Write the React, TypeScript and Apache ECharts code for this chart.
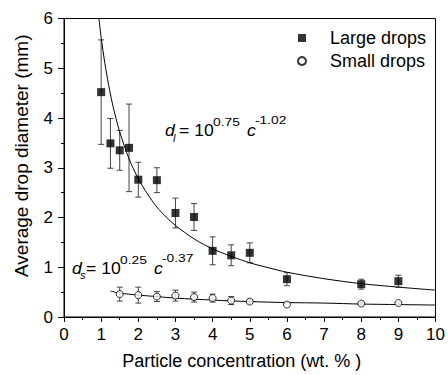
import React, { useEffect, useRef } from "react";
import * as echarts from "echarts";

const concLarge = [1, 1.25, 1.5, 1.75, 2, 2.5, 3, 3.5, 4, 4.5, 5, 6, 8, 9];
const diamLarge = [4.52, 3.49, 3.35, 3.4, 2.76, 2.75, 2.09, 2.01, 1.33, 1.24, 1.29, 0.76, 0.66, 0.72];
const errLarge = [1.05, 0.5, 0.4, 0.88, 0.35, 0.25, 0.3, 0.27, 0.28, 0.21, 0.2, 0.13, 0.1, 0.12];

const concSmall = [1.5, 2, 2.5, 3, 3.5, 4, 4.5, 5, 6, 8, 9];
const diamSmall = [0.46, 0.44, 0.41, 0.43, 0.4, 0.38, 0.33, 0.31, 0.25, 0.27, 0.28];
const errSmall = [0.14, 0.16, 0.1, 0.11, 0.1, 0.08, 0.08, 0.04, 0, 0.03, 0.02];

// fitted power-law curves
const fitLargeX = [0.94, 1, 1.1, 1.2, 1.3, 1.4, 1.5, 1.75, 2, 2.25, 2.5, 2.75, 3, 3.5, 4, 4.5, 5, 5.5, 6, 7, 8, 9, 10];
const fitLargeY = [6.0, 5.62, 5.1, 4.67, 4.3, 3.99, 3.72, 3.18, 2.78, 2.47, 2.21, 2.01, 1.84, 1.57, 1.37, 1.22, 1.09, 0.99, 0.9, 0.77, 0.67, 0.6, 0.54];
const fitSmallX = [1.25, 1.5, 2, 2.5, 3, 4, 5, 6, 7, 8, 9, 10];
const fitSmallY = [0.52, 0.48, 0.44, 0.41, 0.38, 0.34, 0.31, 0.29, 0.28, 0.26, 0.25, 0.24];

const seriesNames = ["Large drops", "Small drops"];
const xTitle = "Particle concentration (wt. % )";
const yTitle = "Average drop diameter (mm)";

const FONT = "Liberation Sans, Arial, sans-serif";

function zip2(a: number[], b: number[]) {
  return a.map((v, i) => [v, b[i]]);
}
function zip3(a: number[], b: number[], c: number[]) {
  return a.map((v, i) => [v, b[i], c[i]]);
}

function errRender(params: any, api: any) {
  const x = api.value(0);
  const y = api.value(1);
  const e = api.value(2);
  if (!e) return null;
  const top = api.coord([x, y + e]);
  const bot = api.coord([x, y - e]);
  const hw = 3;
  const st = { stroke: "#444", lineWidth: 1 };
  return {
    type: "group",
    children: [
      { type: "line", shape: { x1: top[0], y1: top[1], x2: bot[0], y2: bot[1] }, style: st },
      { type: "line", shape: { x1: top[0] - hw, y1: top[1], x2: top[0] + hw, y2: top[1] }, style: st },
      { type: "line", shape: { x1: bot[0] - hw, y1: bot[1], x2: bot[0] + hw, y2: bot[1] }, style: st },
    ],
  };
}

function eqn(x0: number, base: number, sub: string, e1: string, e2: string) {
  const main = 16;
  const sup = 11.5;
  const mid = (b: number, fs: number) => b - 0.35 * fs;
  const t = (x: number, y: number, text: string, fs: number, italic: boolean, sx: number) => ({
    type: "text",
    x,
    y,
    scaleX: sx,
    style: {
      text,
      fontFamily: FONT,
      fontSize: fs,
      fontStyle: italic ? "italic" : "normal",
      fill: "#000",
      align: "left",
      verticalAlign: "middle",
    },
  });
  return [
    t(x0, mid(base, main), "d", main, true, 1.1),
    t(x0 + 8, mid(base + 5, 10), sub, 10, true, 1.1),
    t(x0 + 14, mid(base, main), "= 10", main, false, 1.1),
    t(x0 + 48, mid(base - 10, sup), e1, sup, false, 1.2),
    t(x0 + 82, mid(base, main), "c", main, true, 1.1),
    t(x0 + 90, mid(base - 12, sup), e2, sup, false, 1.2),
  ];
}

export default function App() {
  const ref = useRef<HTMLDivElement>(null);
  useEffect(() => {
    if (!ref.current) return;
    const chart = echarts.init(ref.current, undefined, { renderer: "svg" });
    const axisCommon = {
      axisLine: { show: true, onZero: false, lineStyle: { color: "#000", width: 1 } },
      axisTick: { show: true, inside: false, length: 5, lineStyle: { color: "#000" } },
      minorTick: { show: true, splitNumber: 2, length: 3, lineStyle: { color: "#000" } },
      splitLine: { show: false },
      axisLabel: { color: "#000", fontSize: 17, fontFamily: FONT },
      nameTextStyle: { color: "#000", fontSize: 18, fontFamily: FONT },
    };
    chart.setOption({
      animation: false,
      backgroundColor: "#fff",
      grid: {
        left: 64,
        right: 9.5,
        top: 18.5,
        bottom: 55,
        show: true,
        borderColor: "#000",
        borderWidth: 1,
        backgroundColor: "transparent",
      },
      xAxis: {
        type: "value",
        min: 0,
        max: 10,
        interval: 1,
        ...axisCommon,
        axisLabel: { ...axisCommon.axisLabel, margin: 9 },
        name: xTitle,
        nameLocation: "middle",
        nameGap: 35,
        nameTextStyle: { ...axisCommon.nameTextStyle, padding: [0, 16, 0, 0] },
      },
      yAxis: {
        type: "value",
        min: 0,
        max: 6,
        interval: 1,
        ...axisCommon,
        axisTick: { ...axisCommon.axisTick, length: 6 },
        axisLabel: { ...axisCommon.axisLabel, margin: 11 },
        name: yTitle,
        nameLocation: "middle",
        nameGap: 33,
        nameTextStyle: { ...axisCommon.nameTextStyle, fontSize: 19, padding: [0, 0, 0, 24] },
      },
      legend: {
        data: seriesNames,
        orient: "vertical",
        left: 297,
        top: 29,
        padding: 0,
        itemWidth: 8,
        itemHeight: 8,
        itemGap: 5,
        textStyle: { color: "#000", fontSize: 18, fontFamily: FONT, padding: [0, 0, 0, 19] },
      },
      series: [
        {
          type: "custom",
          name: "errLarge",
          renderItem: errRender,
          data: zip3(concLarge, diamLarge, errLarge),
          encode: { x: 0, y: 1 },
          silent: true,
        },
        {
          type: "custom",
          name: "errSmall",
          renderItem: errRender,
          data: zip3(concSmall, diamSmall, errSmall),
          encode: { x: 0, y: 1 },
          silent: true,
        },
        {
          type: "line",
          name: "fitLarge",
          data: zip2(fitLargeX, fitLargeY),
          smooth: 0.3,
          showSymbol: false,
          lineStyle: { color: "#000", width: 1 },
          silent: true,
        },
        {
          type: "line",
          name: "fitSmall",
          data: zip2(fitSmallX, fitSmallY),
          smooth: 0.3,
          showSymbol: false,
          lineStyle: { color: "#000", width: 1 },
          silent: true,
        },
        {
          type: "scatter",
          name: seriesNames[0],
          data: zip2(concLarge, diamLarge),
          symbol: "rect",
          symbolSize: 8,
          itemStyle: { color: "#000" },
          z: 5,
        },
        {
          type: "scatter",
          name: seriesNames[1],
          data: zip2(concSmall, diamSmall),
          symbol: "circle",
          symbolSize: 7,
          itemStyle: { color: "#fff", borderColor: "#000", borderWidth: 1 },
          z: 5,
        },
      ],
      graphic: [...eqn(165, 136.7, "l", "0.75", "-1.02"), ...eqn(72, 274, "s", "0.25", "-0.37")],
    });
    return () => chart.dispose();
  }, []);
  return <div ref={ref} style={{ width: 448, height: 375, position: "absolute", left: 0, top: 0 }} />;
}
